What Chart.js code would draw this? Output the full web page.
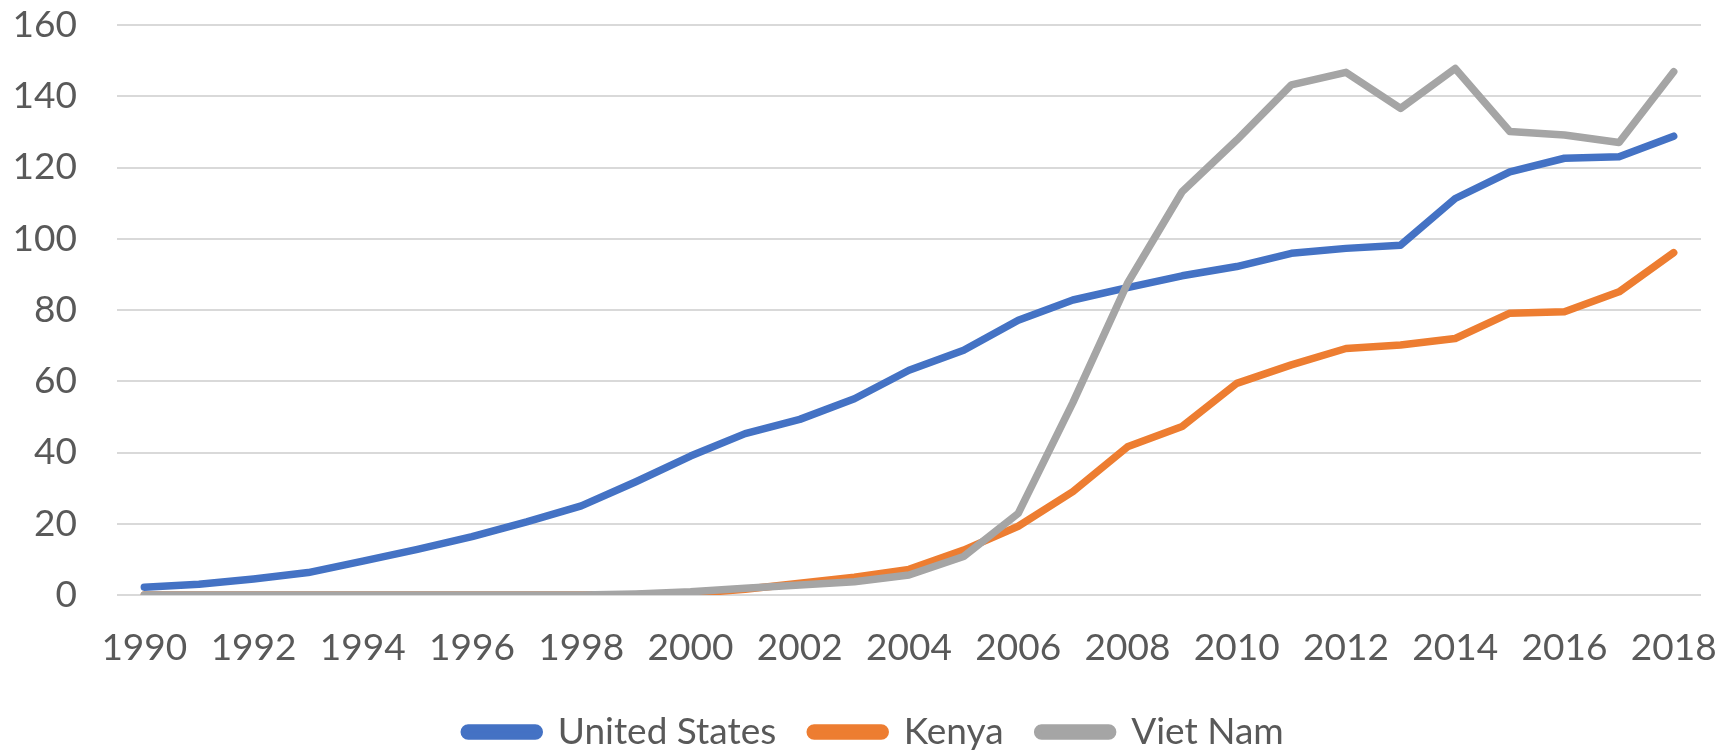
<!DOCTYPE html>
<html>
<head>
<meta charset="utf-8">
<title>Mobile subscriptions</title>
<script src="https://cdn.jsdelivr.net/npm/chart.js@4/dist/chart.umd.min.js"></script>
<style>
  html, body { margin: 0; padding: 0; background: #ffffff; }
  #grafico { display: block; }
</style>
</head>
<body>
<canvas id="grafico" width="1721" height="751"></canvas>
<script>
"use strict";

const anos = ['1990', '1991', '1992', '1993', '1994', '1995', '1996', '1997', '1998', '1999',
  '2000', '2001', '2002', '2003', '2004', '2005', '2006', '2007', '2008', '2009',
  '2010', '2011', '2012', '2013', '2014', '2015', '2016', '2017', '2018'];

const united_states = [2.2, 3.0, 4.5, 6.3, 9.5, 12.8, 16.4, 20.5, 25.0, 31.8,
  39.0, 45.3, 49.3, 55.1, 63.1, 68.7, 77.1, 82.8, 86.3, 89.6,
  92.2, 95.9, 97.3, 98.2, 111.3, 118.8, 122.6, 123.0, 128.8];

const kenya = [0, 0, 0, 0, 0, 0, 0, 0, 0, 0.1,
  0.4, 1.6, 3.3, 5.0, 7.2, 12.6, 19.3, 29.0, 41.6, 47.3,
  59.4, 64.6, 69.2, 70.2, 72.0, 79.1, 79.5, 85.1, 96.1];

const viet_nam = [0, 0, 0, 0, 0, 0, 0, 0, 0, 0.3,
  0.9, 1.9, 2.8, 3.7, 5.6, 10.8, 22.9, 54.0, 87.5, 113.2,
  127.7, 143.2, 146.7, 136.6, 147.8, 130.1, 129.1, 127.0, 146.9];

const y_ticks = [0, 20, 40, 60, 80, 100, 120, 140, 160];

const cor_texto = '#595959';
const fonte = { family: 'Lato', size: 37 };

function serie(label, data, cor, ordem) {
  return {
    label: label,
    data: data,
    borderColor: cor,
    backgroundColor: cor,
    borderWidth: 7.5,
    borderCapStyle: 'round',
    borderJoinStyle: 'round',
    pointRadius: 0,
    tension: 0,
    order: ordem // viet nam ends up drawn on top
  };
}

const ctx = document.getElementById('grafico').getContext('2d');

new Chart(ctx, {
  type: 'line',
  data: {
    labels: anos,
    datasets: [
      serie('United States', united_states, '#4472C4', 2),
      serie('Kenya', kenya, '#ED7D31', 1),
      serie('Viet Nam', viet_nam, '#A5A5A5', 0)
    ]
  },
  options: {
    responsive: false,
    animation: false,
    // right side is negative so the legend sits a bit right of centre
    layout: { padding: { left: 11, right: -16, top: 25, bottom: -9.5 } },
    plugins: {
      tooltip: { enabled: false },
      legend: {
        position: 'bottom',
        labels: {
          color: cor_texto,
          font: fonte,
          boxWidth: 75,
          boxHeight: 8,
          useBorderRadius: true,
          borderRadius: 4,
          padding: 34,
          sort: (a, b) => a.datasetIndex - b.datasetIndex
        }
      }
    },
    scales: {
      x: {
        offset: true,
        grid: { display: false },
        border: { display: false },
        ticks: {
          color: cor_texto,
          font: fonte,
          autoSkip: false,
          maxRotation: 0,
          padding: 23,
          // only every other year gets a label
          callback: (val, i) => (i % 2 === 0 ? anos[i] : '')
        },
        afterFit: (axis) => {
          axis.paddingLeft = 0;
          axis.paddingRight = 20;
          axis.height = 84.5;
        }
      },
      y: {
        min: y_ticks[0],
        max: y_ticks[y_ticks.length - 1],
        border: { display: false },
        grid: { color: '#D9D9D9', lineWidth: 2, drawTicks: false },
        afterBuildTicks: (axis) => { axis.ticks = y_ticks.map(v => ({ value: v })); },
        ticks: {
          color: cor_texto,
          font: fonte,
          padding: 40
        },
        afterFit: (axis) => {
          axis.paddingTop = 0;
          axis.paddingBottom = 0;
          axis.width = 106;
        }
      }
    }
  }
});
</script>
</body>
</html>
